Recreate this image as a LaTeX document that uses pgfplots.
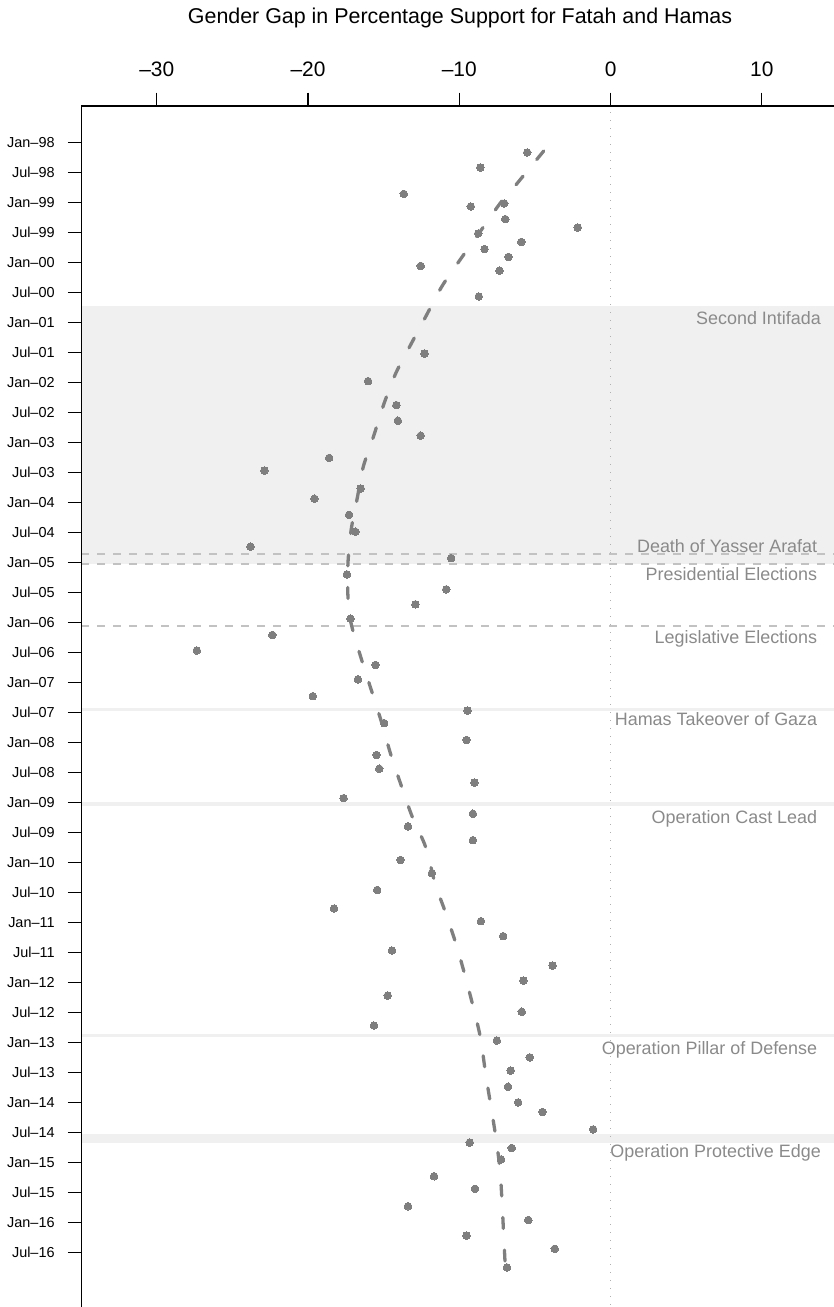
\documentclass[border=0pt]{standalone}
\usepackage{fontspec}
\setmainfont{Liberation Sans}
\usepackage{pgfplots}
\pgfplotsset{compat=1.18}
\usepackage{pgfplotstable}

\definecolor{ptgray}{HTML}{7F7F7F}
\definecolor{bandgray}{HTML}{F0F0F0}
\definecolor{evgray}{HTML}{C2C2C2}
\definecolor{txtgray}{HTML}{8A8A8A}
\definecolor{zerogray}{HTML}{B0B0B0}

% survey points: gender gap (x) and date in decimal years (t)
\pgfplotstableread{
x t
-5.51 1998.17
-8.61 1998.42
-13.67 1998.86
-9.24 1999.07
-7.03 1999.02
-6.96 1999.28
-2.17 1999.42
-8.75 1999.52
-5.90 1999.66
-8.33 1999.78
-6.75 1999.91
-12.55 2000.06
-7.34 2000.14
-8.71 2000.57
-12.30 2001.52
-16.03 2001.98
-14.16 2002.38
-14.06 2002.64
-12.55 2002.89
-18.60 2003.26
-22.88 2003.47
-16.52 2003.77
-19.58 2003.94
-17.29 2004.21
-16.87 2004.49
-23.80 2004.74
-10.54 2004.93
-17.43 2005.20
-10.86 2005.45
-12.90 2005.70
-17.19 2005.94
-22.36 2006.21
-27.35 2006.47
-15.54 2006.71
-16.70 2006.95
-19.68 2007.23
-9.45 2007.47
-14.97 2007.68
-9.52 2007.96
-15.47 2008.21
-15.29 2008.44
-9.00 2008.67
-17.65 2008.93
-9.10 2009.19
-13.39 2009.40
-9.10 2009.63
-13.88 2009.96
-11.81 2010.18
-15.43 2010.46
-18.28 2010.77
-8.57 2010.98
-7.10 2011.23
-14.45 2011.47
-3.83 2011.72
-5.76 2011.97
-14.73 2012.22
-5.87 2012.49
-15.64 2012.72
-7.52 2012.97
-5.34 2013.25
-6.60 2013.47
-6.78 2013.74
-6.11 2014.00
-4.50 2014.16
-1.15 2014.45
-9.31 2014.67
-6.53 2014.76
-7.24 2014.95
-11.67 2015.23
-8.96 2015.44
-13.39 2015.73
-5.44 2015.96
-9.52 2016.22
-3.69 2016.44
-6.85 2016.75
}\gappoints

% smoothed trend
\pgfplotstableread{
x t
-4.42 1998.145
-6.39 1998.75
-7.31 1999.02
-8.71 1999.52
-10.12 2000.02
-11.17 2000.41
-12.23 2000.91
-13.29 2001.41
-14.20 2001.85
-14.97 2002.35
-15.68 2002.91
-16.35 2003.41
-16.73 2003.91
-17.15 2004.46
-17.36 2005.02
-17.36 2005.57
-17.15 2006.02
-16.45 2006.63
-15.75 2007.18
-15.12 2007.68
-14.52 2008.21
-13.81 2008.74
-13.11 2009.24
-12.23 2009.74
-11.60 2010.35
-10.89 2010.85
-10.23 2011.35
-9.66 2011.85
-9.14 2012.35
-8.61 2012.91
-8.26 2013.52
-7.94 2014.02
-7.59 2014.57
-7.31 2015.12
-7.17 2015.68
-7.06 2016.24
-6.96 2016.74
}\gaptrend

\begin{document}
\begin{tikzpicture}
\begin{axis}[
  name=ax, at={(0,0)}, anchor=north west,
  scale only axis, width=752.6bp, height=1201bp,
  xmin=-34.98, xmax=14.77,
  ymin=-2017.41, ymax=-1997.395,
  y filter/.expression={-y},
  axis line style={draw=none},
  clip=false,
  tick align=outside,
  major tick length=13.4bp,
  tick style={black, line width=1.2bp},
  xtick pos=right, ytick pos=left,
  xticklabel pos=right,
  xtick={-30,-20,-10,0,10},
  xticklabels={–30,–20,–10,0,10},
  xticklabel style={font=\fontsize{21}{21}\selectfont, inner sep=0pt, anchor=south, yshift=16bp},
  ytick={-1998,-1998.5,-1999,-1999.5,-2000,-2000.5,-2001,-2001.5,-2002,-2002.5,-2003,-2003.5,-2004,-2004.5,-2005,-2005.5,-2006,-2006.5,-2007,-2007.5,-2008,-2008.5,-2009,-2009.5,-2010,-2010.5,-2011,-2011.5,-2012,-2012.5,-2013,-2013.5,-2014,-2014.5,-2015,-2015.5,-2016,-2016.5},
  yticklabels={Jan–98,Jul–98,Jan–99,Jul–99,Jan–00,Jul–00,Jan–01,Jul–01,Jan–02,Jul–02,Jan–03,Jul–03,Jan–04,Jul–04,Jan–05,Jul–05,Jan–06,Jul–06,Jan–07,Jul–07,Jan–08,Jul–08,Jan–09,Jul–09,Jan–10,Jul–10,Jan–11,Jul–11,Jan–12,Jul–12,Jan–13,Jul–13,Jan–14,Jul–14,Jan–15,Jul–15,Jan–16,Jul–16},
  yticklabel style={font=\fontsize{14.5}{14.5}\selectfont, inner sep=0pt, anchor=east, xshift=-13.2bp},
]
% Second Intifada shading
\fill[bandgray] (axis cs:-34.98,-2000.73) rectangle (axis cs:14.77,-2005.03);
% war bands
\draw[bandgray, line width=3bp] (axis cs:-34.98,-2007.45) -- (axis cs:14.77,-2007.45);
\fill[bandgray] (axis cs:-34.98,-2008.99) rectangle (axis cs:14.77,-2009.06);
\draw[bandgray, line width=3bp] (axis cs:-34.98,-2012.88) -- (axis cs:14.77,-2012.88);
\fill[bandgray] (axis cs:-34.98,-2014.523) rectangle (axis cs:14.77,-2014.673);
% election / death lines
\draw[evgray, line width=2bp, dash pattern=on 8bp off 8bp] (axis cs:-34.98,-2004.867) -- (axis cs:14.77,-2004.867);
\draw[evgray, line width=2bp, dash pattern=on 8bp off 8bp] (axis cs:-34.98,-2005.028) -- (axis cs:14.77,-2005.028);
\draw[evgray, line width=2bp, dash pattern=on 8bp off 8bp] (axis cs:-34.98,-2006.067) -- (axis cs:14.77,-2006.067);
% zero line
\draw[zerogray, line width=1bp, dash pattern=on 1bp off 7bp] (axis cs:0,-1997.5) -- (axis cs:0,-2017.41);

\addplot[only marks, mark=*, mark size=3.8bp, mark options={draw=ptgray, fill=ptgray, line width=0pt}] table[x=x,y=t] {\gappoints};
\addplot[ptgray, line width=3.3bp, dash pattern=on 11bp off 21.6bp, line cap=round, smooth, no marks] table[x=x,y=t] {\gaptrend};

\begin{scope}[every node/.style={anchor=base east, text=txtgray, font=\fontsize{18}{18}\selectfont, inner sep=0pt}]
\node at (axis cs:13.91,-2001.033) {Second Intifada};
\node at (axis cs:13.67,-2004.84) {Death of Yasser Arafat};
\node at (axis cs:13.67,-2005.31) {Presidential Elections};
\node at (axis cs:13.67,-2006.36) {Legislative Elections};
\node at (axis cs:13.67,-2007.72) {Hamas Takeover of Gaza};
\node at (axis cs:13.67,-2009.35) {Operation Cast Lead};
\node at (axis cs:13.67,-2013.195) {Operation Pillar of Defense};
\node at (axis cs:13.91,-2014.92) {Operation Protective Edge};
\end{scope}

\draw[black, line width=1.2bp] (rel axis cs:0,0) -- (rel axis cs:0,1) -- (rel axis cs:1,1);
\end{axis}
\node[anchor=base, font=\fontsize{21.5}{21.5}\selectfont] at (378.6bp,82.7bp) {Gender Gap in Percentage Support for Fatah and Hamas};
\pgfresetboundingbox
\path (-81.4bp,106bp) rectangle (752.6bp,-1201bp);
\end{tikzpicture}
\end{document}
